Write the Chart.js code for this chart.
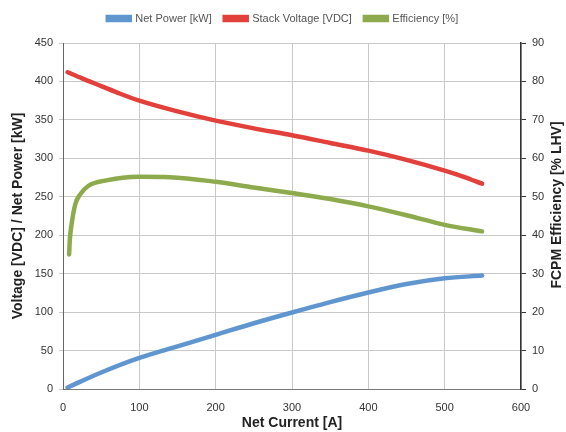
<!DOCTYPE html>
<html>
<head>
<meta charset="utf-8">
<script src="https://cdn.jsdelivr.net/npm/chart.js@4/dist/chart.umd.min.js"></script>
<style>
  html, body { margin: 0; padding: 0; background: #fff; }
  #wrap { width: 566px; height: 432px; }
</style>
</head>
<body>
<div id="wrap"><canvas id="fcpmChart"></canvas></div>
<script>
// FCPM polarisation data

const powerCurrent = [6, 50, 100, 150, 200, 250, 300, 350, 400, 450, 500, 549];
const netPower = [2, 21.5, 40.5, 55.5, 70.5, 85.5, 99.5, 113, 125.5, 136.5, 144, 147.5];

const voltageCurrent = [6, 25, 50, 75, 100, 150, 200, 250, 300, 350, 400, 450, 500, 525, 549];
const stackVoltage = [412, 404, 394, 384, 375, 361, 349, 339, 330, 320, 310, 298, 284, 276, 267];

const effCurrent = [8, 9, 11, 16, 22, 33, 55, 100, 140, 200, 250, 300, 350, 400, 450, 500, 549];
const efficiency = [35, 39, 42.5, 48, 50.5, 52.8, 54.2, 55.2, 55.1, 53.9, 52.4, 51, 49.4, 47.5, 45.2, 42.7, 41];

const xTicks = [0, 100, 200, 300, 400, 500, 600];

const rightTitle = 'FCPM Efficiency [% LHV]';

function toPoints(xs, ys) {
    return xs.map((x, i) => ({ x: x, y: ys[i] }));
}

const gridColor = '#c9c9c9';
const fontFamily = 'Liberation Sans, Arial, sans-serif';
const tickFont = { family: fontFamily, size: 11 };
const titleFont = { family: fontFamily, size: 14, weight: 'bold' };

// legend sits higher than the default, so give it extra room below
const legendGap = {
    id: 'legendGap',
    beforeInit(chart) {
        const fit = chart.legend.fit;
        chart.legend.fit = function () {
            fit.call(this);
            this.height += 9;
        };
    }
};

// right axis title reads bottom-to-top, like the left one
const rightAxisTitle = {
    id: 'rightAxisTitle',
    afterDraw(chart) {
        const c = chart.ctx;
        c.save();
        c.translate(557, 205);
        c.rotate(-Math.PI / 2);
        c.font = 'bold 14px ' + fontFamily;
        c.fillStyle = '#222';
        c.textAlign = 'center';
        c.textBaseline = 'middle';
        c.fillText(rightTitle, 0, 0);
        c.restore();
    }
};

const ctx = document.getElementById('fcpmChart');

new Chart(ctx, {
    type: 'line',
    data: {
        datasets: [
            {
                label: 'Net Power [kW]',
                data: toPoints(powerCurrent, netPower),
                borderColor: '#6096cf',
                backgroundColor: '#6096cf',
                yAxisID: 'y'
            },
            {
                label: 'Stack Voltage [VDC]',
                data: toPoints(voltageCurrent, stackVoltage),
                borderColor: '#e2403a',
                backgroundColor: '#e2403a',
                yAxisID: 'y'
            },
            {
                label: 'Efficiency [%]',
                data: toPoints(effCurrent, efficiency),
                borderColor: '#8dab4c',
                backgroundColor: '#8dab4c',
                yAxisID: 'y2'
            }
        ]
    },
    plugins: [legendGap, rightAxisTitle],
    options: {
        responsive: true,
        maintainAspectRatio: false,
        animation: false,
        layout: { padding: { top: 0, right: 0, left: 0, bottom: 0 } },
        elements: {
            line: { borderWidth: 4.5, cubicInterpolationMode: 'monotone', borderCapStyle: 'round' },
            point: { radius: 0 }
        },
        plugins: {
            legend: {
                position: 'top',
                labels: {
                    boxWidth: 22,
                    boxHeight: 3,
                    padding: 13,
                    color: '#555',
                    font: { family: fontFamily, size: 11 }
                }
            },
            tooltip: { enabled: false }
        },
        scales: {
            x: {
                type: 'linear',
                min: 0,
                max: 600,
                afterBuildTicks: (scale) => { scale.ticks = xTicks.map(v => ({ value: v })); },
                ticks: { color: '#333', font: tickFont, padding: 12 },
                grid: { color: gridColor, tickLength: 0 },
                border: { color: '#777' },
                title: { display: true, text: 'Net Current [A]', color: '#222', font: titleFont, padding: { top: 2, bottom: 0 } },
                afterFit: (scale) => { scale.height = 43; }
            },
            y: {
                position: 'left',
                min: 0,
                max: 450,
                ticks: { stepSize: 50, color: '#333', font: tickFont, padding: 6 },
                grid: { color: gridColor, tickLength: 4 },
                border: { color: '#666' },
                title: { display: true, text: 'Voltage [VDC] / Net Power [kW]', color: '#222', font: titleFont, padding: { top: 10, bottom: 2 } },
                afterFit: (scale) => { scale.width = 63; }
            },
            y2: {
                position: 'right',
                min: 0,
                max: 90,
                ticks: { stepSize: 10, color: '#333', font: tickFont, padding: 6 },
                grid: { drawOnChartArea: false, tickLength: 5, color: '#333' },
                border: { color: '#333', width: 1.5 },
                afterFit: (scale) => { scale.width = 45; }
            }
        }
    }
});
</script>
</body>
</html>
